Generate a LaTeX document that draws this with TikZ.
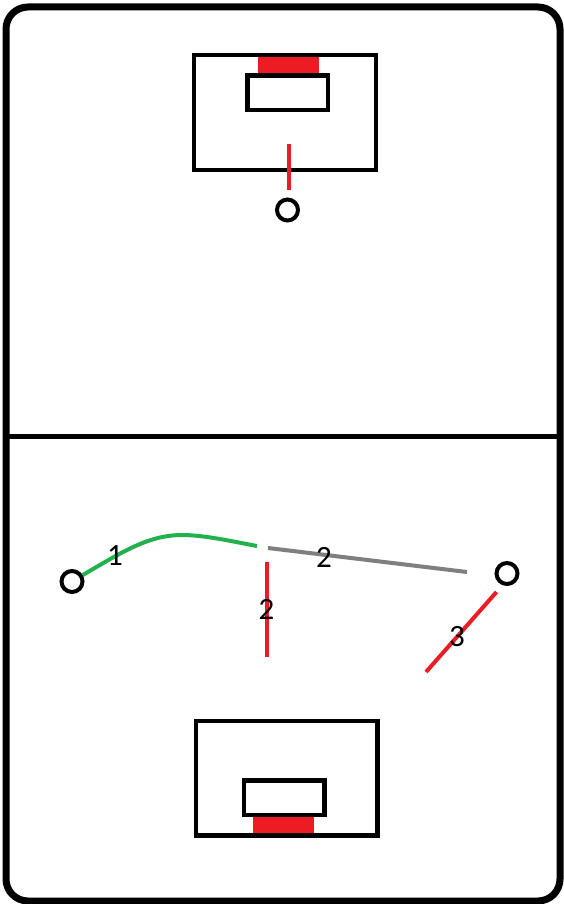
\documentclass[tikz,border=0pt]{standalone}
\usepackage{fontspec}
\setmainfont{Carlito}
\definecolor{pred}{HTML}{ED1C24}
\definecolor{pgreen}{HTML}{22B14C}
\definecolor{pgray}{HTML}{7F7F7F}
\begin{document}
\begin{tikzpicture}[x=1pt,y=-1pt,
  line/.style={line width=4.5pt},
  goalbox/.style={draw,line width=4.5pt},
  redline/.style={pred,line width=4pt},
  player/.style={circle,draw,line width=4pt,minimum size=21pt,inner sep=0pt,fill=white},
  lbl/.style={font=\fontsize{31}{31}\selectfont,inner sep=0pt}]
\useasboundingbox (0,0) rectangle (564,904);
\fill[white] (0,0) rectangle (564,904);
% field
\draw[line width=7pt,rounded corners=22pt] (6,7) rectangle (560,901);
\draw[line width=5pt] (6,436) -- (560,436);
% top goal
\fill[pred] (258,55) rectangle (319,74);
\draw[goalbox] (194,55) rectangle (376,170);
\draw[goalbox] (247.5,75.5) rectangle (328,110);
\node[player] (p1) at (287.5,210) {};
\coordinate (t1) at (288.5,144);
\draw[redline] (t1) -- (288.5,190);
% bottom goal
\fill[pred] (253,816) rectangle (314,835);
\draw[goalbox] (196,721) rectangle (377.5,835.5);
\draw[goalbox] (244,780.5) rectangle (324.5,815);
% players
\node[player] (p2) at (72,581.5) {};
\node[player] (p3) at (507,573.5) {};
% pass 1
\coordinate (g2) at (257,546);
\draw[pgreen,line width=4pt] (p2) .. controls (125,550) and (150,535) .. (182,535) .. controls (205,535) and (235,542) .. (g2);
\node[lbl] (l1) at (115,556) {1};
% pass 2 gray
\coordinate (a1) at (268,548);
\coordinate (a2) at (467,572);
\draw[pgray,line width=4pt] (a1) -- (a2);
\node[lbl] (l2) at (324,557) {2};
% red 2
\coordinate (b1) at (266.5,562);
\coordinate (b2) at (266.5,657);
\draw[redline] (b1) -- (b2);
\node[lbl] (l3) at (266.5,609) {2};
% red 3
\coordinate (c1) at (496.5,592);
\coordinate (c2) at (426,672);
\draw[redline] (c1) -- (c2);
\node[lbl] (l4) at (457,637) {3};
\end{tikzpicture}
\end{document}
